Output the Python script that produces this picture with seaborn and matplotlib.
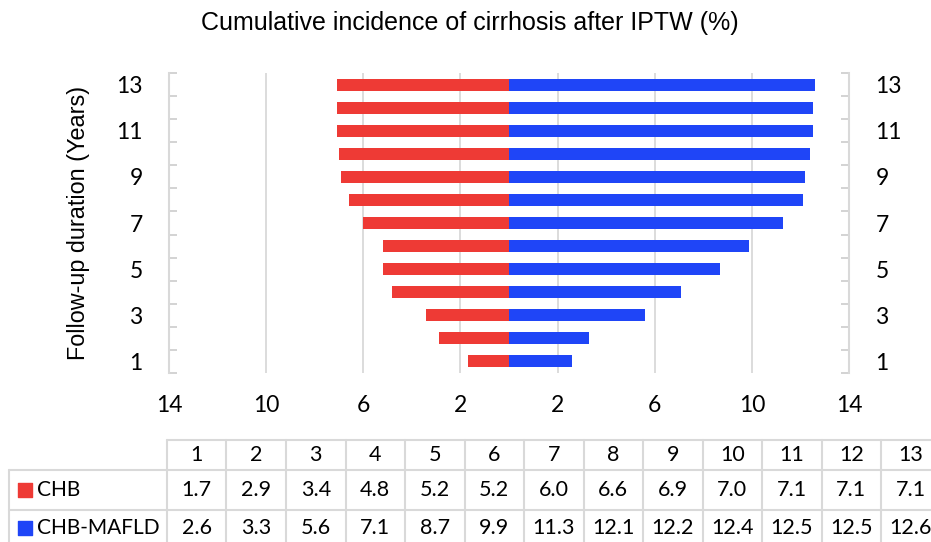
import matplotlib.pyplot as plt
import numpy as np
import pandas as pd
import seaborn as sns

# cumulative incidence (%) by follow-up year
years  = list(range(1, 14))
chb    = [1.7, 2.9, 3.4, 4.8, 5.2, 5.2, 6.0, 6.6, 6.9, 7.0, 7.1, 7.1, 7.1]
mafld  = [2.6, 3.3, 5.6, 7.1, 8.7, 9.9, 11.3, 12.1, 12.2, 12.4, 12.5, 12.5, 12.6]
groups = ['CHB', 'CHB-MAFLD']
colors = {'CHB': '#ee3a35', 'CHB-MAFLD': '#1f45f7'}
xticks = [-14, -10, -6, -2, 2, 6, 10, 14]

sns.set_style('white')
plt.rcParams['font.family'] = ['Lato', 'DejaVu Sans']
plt.rcParams['text.color'] = 'black'
plt.rcParams['xtick.color'] = 'black'
plt.rcParams['ytick.color'] = 'black'
plt.rcParams['axes.labelcolor'] = 'black'
grid_c = '#d9d9d9'

df = pd.DataFrame({'year'  : years * 2,
                   'value' : [-v for v in chb] + mafld,
                   'group' : [groups[0]] * len(years) + [groups[1]] * len(years)})

fig = plt.figure(figsize=(9.31, 5.42), dpi=100)
ax  = fig.add_axes([169/931, 1 - 373/542, 680/931, 300/542])
sns.barplot(data=df, x='value', y='year', hue='group', orient='y', native_scale=True,
            dodge=False, palette=colors, saturation=1, width=0.52, linewidth=0,
            errorbar=None, legend=False, ax=ax)

ax.set_xlim(-14, 14)
ax.set_ylim(0.5, 13.5)
ax.set_xticks(xticks)
ax.set_xticklabels([str(abs(t)) for t in xticks])
ax.set_yticks(years[::2])
ax.set_yticks(np.arange(0.5, 14, 1), minor=True)
ax.tick_params(axis='x', length=0, labelsize=16.5, pad=16)
ax.tick_params(axis='y', which='major', length=0, labelsize=16.5, pad=19,
               labelleft=True, labelright=True)
ax.tick_params(axis='y', which='minor', direction='in', length=6, width=1.3,
               color='#d0d0d0', left=True, right=True)
ax.xaxis.grid(True, color=grid_c, lw=1.3)
ax.set_axisbelow(True)
for s in ['top', 'bottom']:
    ax.spines[s].set_visible(False)
for s in ['left', 'right']:
    ax.spines[s].set_color(grid_c)
    ax.spines[s].set_linewidth(1.5)
ax.set_xlabel('')
ax.set_ylabel('Follow-up duration (Years)', fontsize=16.8, family='Liberation Sans')
ax.yaxis.set_label_coords(-0.116, 0.5)

fig.text(470/931, 1 - 23/542, 'Cumulative incidence of cirrhosis after IPTW (%)',
         ha='center', va='center', fontsize=18, family='Liberation Sans')

#-- data table below the chart --
tab   = fig.add_axes([9/931, 1 - 550/542, 931.5/931, 110/542])
lab_w = 158 / 59.5
tab.set_xlim(-lab_w, 13)
tab.set_ylim(110, 0)
tab.axis('off')
for y in [0, 30, 70, 110]:
    tab.plot([0 if y == 0 else -lab_w, 13], [y, y], color=grid_c, lw=1.5, clip_on=False)
tab.plot([-lab_w, -lab_w], [30, 110], color=grid_c, lw=1.5, clip_on=False)
for i in range(len(years) + 1):
    tab.plot([i, i], [0, 110], color=grid_c, lw=1.5, clip_on=False)

for i, yr in enumerate(years):
    tab.text(i + 0.5, 15, str(yr), ha='center', va='center', fontsize=15.5)
for g, vals, y in zip(groups, [chb, mafld], [50, 88]):
    tab.scatter([16/59.5 - lab_w], [y], marker='s', s=95, color=colors[g], clip_on=False)
    tab.text(28/59.5 - lab_w, y, g, ha='left', va='center', fontsize=15)
    for i, v in enumerate(vals):
        tab.text(i + 0.5, y, f'{v:.1f}', ha='center', va='center', fontsize=15.5)

plt.savefig('out.png', dpi=100)
